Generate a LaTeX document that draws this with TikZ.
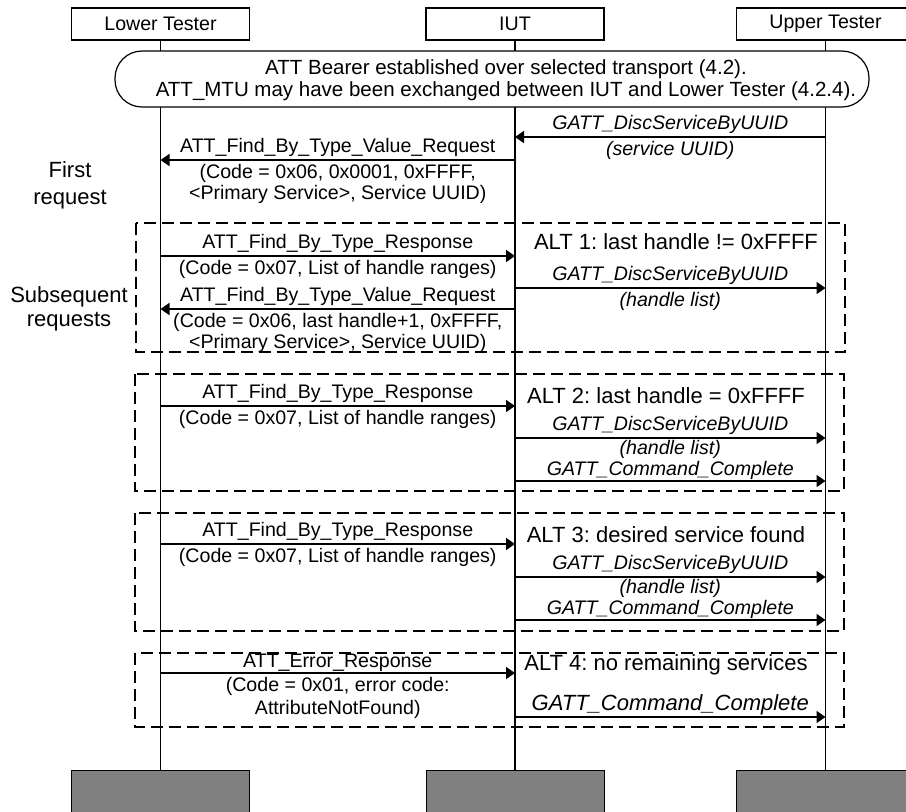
\documentclass[tikz,border=0pt]{standalone}
\usepackage{fontspec}
\setmainfont{Liberation Sans}
\usetikzlibrary{arrows.meta}
\frenchspacing

\begin{document}
\begin{tikzpicture}[x=1pt,y=1pt,font=\fontsize{19.6}{21}\selectfont]
    \tikzstyle{actor box}=[draw,line width=1.2pt,minimum width=178pt,minimum height=32pt,inner sep=0pt]
    \tikzstyle{end box}=[draw,line width=1pt,fill=gray,minimum width=178pt,minimum height=50pt,inner sep=0pt,anchor=north]
    \tikzstyle{life line}=[line width=1.8pt]
    \tikzstyle{msg}=[line width=1.8pt,-{Triangle[length=9pt,width=12pt]}]
    \tikzstyle{above label}=[above,inner xsep=0pt,inner ysep=3pt,align=center]
    \tikzstyle{below label}=[below,inner xsep=0pt,inner ysep=3pt,align=center]
    \tikzstyle{alt box}=[line width=1.2pt,dash pattern=on 12pt off 6pt]
    \tikzstyle{big}=[font=\fontsize{22}{25}\selectfont]

    \useasboundingbox (0,0) rectangle (906,-812);

    % actors and their ends
    \node(LT)[actor box] at (160.5,-24){Lower Tester};
    \node(IUT)[actor box] at (515,-24){IUT};
    \node(UT)[actor box] at (825.5,-24){Upper Tester};
    \node(LTend)[end box] at (160.5,-770){};
    \node(IUTend)[end box] at (515,-770){};
    \node(UTend)[end box] at (825.5,-770){};
    \draw[life line] (LT) -- (LTend);
    \draw[life line] (IUT) -- (IUTend);
    \draw[life line] (UT) -- (UTend);

    % preamble box
    \node(bearer)[draw,line width=1.2pt,fill=white,rounded corners=27pt,minimum width=754pt,minimum height=56pt] at (492,-79){};
    \node(bearertext)[align=center,font=\fontsize{20.5}{22}\selectfont] at (506,-80)
        {ATT Bearer established over selected transport (4.2).\\ATT\_MTU may have been exchanged between IUT and Lower Tester (4.2.4).};

    % first request
    \node(first)[align=center,font=\fontsize{22}{27}\selectfont] at (70,-185){First\\request};
    \draw[msg] (UT |- 0,-137) -- node[above label](m1a){\itshape GATT\_DiscServiceByUUID}
        node[below label](m1b){\itshape (service UUID)} (IUT |- 0,-137);
    \draw[msg] (IUT |- 0,-160) -- node[above label](m2a){ATT\_Find\_By\_Type\_Value\_Request}
        node[below label](m2b){(Code = 0x06, 0x0001, 0xFFFF,\\<Primary Service>, Service UUID)} (LT |- 0,-160);

    % subsequent requests
    \draw[alt box] (136,-223) rectangle (845,-352);
    \node(subs)[align=center,font=\fontsize{22}{24}\selectfont] at (69,-309){Subsequent\\requests};
    \node(alt1)[big] at (676,-242){ALT 1: last handle != 0xFFFF};
    \draw[msg] (LT |- 0,-256) -- node[above label](m3a){ATT\_Find\_By\_Type\_Response}
        node[below label](m3b){(Code = 0x07, List of handle ranges)} (IUT |- 0,-256);
    \draw[msg] (IUT |- 0,-288) -- node[above label](m4a){\itshape GATT\_DiscServiceByUUID}
        node[below label](m4b){\itshape (handle list)} (UT |- 0,-288);
    \draw[msg] (IUT |- 0,-309) -- node[above label](m5a){ATT\_Find\_By\_Type\_Value\_Request}
        node[below label](m5b){(Code = 0x06, last handle+1, 0xFFFF,\\<Primary Service>, Service UUID)} (LT |- 0,-309);

    % alt 2
    \draw[alt box] (135,-374) rectangle (844,-491);
    \node(alt2)[big] at (666,-396){ALT 2: last handle = 0xFFFF};
    \draw[msg] (LT |- 0,-406) -- node[above label](m6a){ATT\_Find\_By\_Type\_Response}
        node[below label](m6b){(Code = 0x07, List of handle ranges)} (IUT |- 0,-406);
    \draw[msg] (IUT |- 0,-438) -- node[above label](m7a){\itshape GATT\_DiscServiceByUUID}
        node[below label,inner ysep=1.5pt](m7b){\itshape (handle list)} (UT |- 0,-438);
    \draw[msg] (IUT |- 0,-481) -- node[above label,inner ysep=1pt](m8a){\itshape GATT\_Command\_Complete} (UT |- 0,-481);

    % alt 3
    \draw[alt box] (135,-513) rectangle (844,-631);
    \node(alt3)[big] at (666,-535){ALT 3: desired service found};
    \draw[msg] (LT |- 0,-544) -- node[above label](m9a){ATT\_Find\_By\_Type\_Response}
        node[below label](m9b){(Code = 0x07, List of handle ranges)} (IUT |- 0,-544);
    \draw[msg] (IUT |- 0,-577) -- node[above label](m10a){\itshape GATT\_DiscServiceByUUID}
        node[below label,inner ysep=1.5pt](m10b){\itshape (handle list)} (UT |- 0,-577);
    \draw[msg] (IUT |- 0,-620) -- node[above label,inner ysep=1pt](m11a){\itshape GATT\_Command\_Complete} (UT |- 0,-620);

    % alt 4
    \draw[alt box] (135,-653) rectangle (844,-727);
    \node(alt4)[big] at (666,-665){ALT 4: no remaining services};
    \draw[msg] (LT |- 0,-673) -- node[above label,inner ysep=1pt](m12a){ATT\_Error\_Response}
        node[below label,font=\fontsize{19.6}{23}\selectfont](m12b){(Code = 0x01, error code:\\AttributeNotFound)} (IUT |- 0,-673);
    \draw[msg] (IUT |- 0,-717) -- node[above label,big,inner ysep=1pt](m13a){\itshape GATT\_Command\_Complete} (UT |- 0,-717);
\end{tikzpicture}
\end{document}
